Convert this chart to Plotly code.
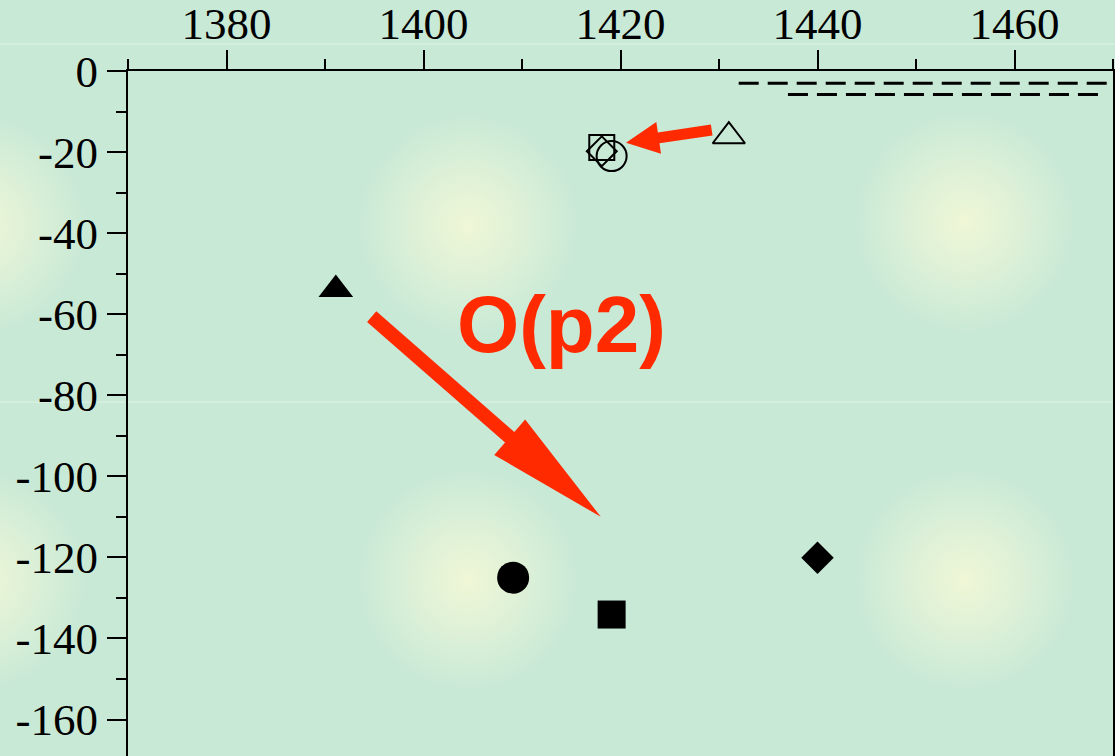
import base64
import math
import plotly.graph_objects as go

# ---------------------------------------------------------------- data
symbols = ["triangle-up", "square", "diamond", "circle"]

# open symbols (upper group)
open_x = [1431.0, 1418.1, 1418.1, 1419.1]
open_y = [-16.1, -18.9, -19.8, -21.0]

# filled symbols (lower group)
filled_x = [1391.1, 1419.1, 1440.0, 1409.1]
filled_y = [-53.9, -134.1, -120.1, -125.0]

# dashed reference segments in the upper right corner
dash_x = [[1432.0, 1470.0], [1437.0, 1469.1]]
dash_y = [[-3.0, -3.0], [-5.8, -5.8]]

x_range = [1370, 1470]
y_range = [-169.0, 0]
x_ticks = [1380, 1400, 1420, 1440, 1460]
y_ticks = [0, -20, -40, -60, -80, -100, -120, -140, -160]

label_text = "O(p2)"
RED = "#ff2a00"

# ---------------------------------------------------------------- geometry
W, H = 1115, 756
ML, MR, MT, MB = 128, 2, 71, 0
PW, PH = W - ML - MR, H - MT - MB


def to_px(x, y):
    px = ML + (x - x_range[0]) * PW / (x_range[1] - x_range[0])
    py = MT + (y_range[1] - y) * PH / (y_range[1] - y_range[0])
    return px, py


def to_data(px, py):
    x = x_range[0] + (px - ML) * (x_range[1] - x_range[0]) / PW
    y = y_range[1] - (py - MT) * (y_range[1] - y_range[0]) / PH
    return x, y


def arrow_path(tail, tip, shaft_w, head_w, head_l):
    """Filled block arrow, sizes given in pixels, ends in data units."""
    tx, ty = to_px(*tail)
    hx, hy = to_px(*tip)
    L = math.hypot(hx - tx, hy - ty)
    ux, uy = (hx - tx) / L, (hy - ty) / L
    nx, ny = -uy, ux
    bx, by = hx - ux * head_l, hy - uy * head_l
    pts = [
        (tx + nx * shaft_w / 2, ty + ny * shaft_w / 2),
        (bx + nx * shaft_w / 2, by + ny * shaft_w / 2),
        (bx + nx * head_w / 2, by + ny * head_w / 2),
        (hx, hy),
        (bx - nx * head_w / 2, by - ny * head_w / 2),
        (bx - nx * shaft_w / 2, by - ny * shaft_w / 2),
        (tx - nx * shaft_w / 2, ty - ny * shaft_w / 2),
    ]
    dpts = [to_data(*p) for p in pts]
    return "M " + " L ".join(f"{x:.4f},{y:.4f}" for x, y in dpts) + " Z"


# ---------------------------------------------------------------- background
spots = [(-25, 225), (468, 225), (965, 222), (-25, 580), (468, 580), (965, 580)]
circles = "".join(
    f'<circle cx="{cx}" cy="{cy}" r="112" fill="url(#g)"/>' for cx, cy in spots
)
svg = (
    f'<svg xmlns="http://www.w3.org/2000/svg" width="{W}" height="{H}" '
    f'viewBox="0 0 {W} {H}">'
    '<defs><radialGradient id="g">'
    '<stop offset="0" stop-color="#eff7d6"/>'
    '<stop offset="0.45" stop-color="#dff1d7"/>'
    '<stop offset="1" stop-color="#c8e9d6"/>'
    '</radialGradient></defs>'
    f'<rect width="{W}" height="{H}" fill="#c8e9d6"/>'
    f"{circles}"
    f'<rect y="43.5" width="{W}" height="1.2" fill="#dcf1e5"/>'
    f'<rect y="401.5" width="{W}" height="1.2" fill="#dcf1e5"/>'
    "</svg>"
)
bg_uri = "data:image/svg+xml;base64," + base64.b64encode(svg.encode()).decode()

# ---------------------------------------------------------------- figure
fig = go.Figure()

for xs, ys in zip(dash_x, dash_y):
    fig.add_trace(go.Scatter(
        x=xs, y=ys, mode="lines",
        line=dict(color="black", width=3, dash="20px,9px"),
        showlegend=False, hoverinfo="skip",
    ))

open_sizes = {"triangle-up": 28, "square": 25, "diamond": 23, "circle": 30}
filled_sizes = {"triangle-up": 30, "square": 28, "diamond": 25, "circle": 32}

fig.add_trace(go.Scatter(
    x=open_x, y=open_y, mode="markers",
    marker=dict(
        symbol=[s + "-open" for s in symbols],
        size=[open_sizes[s] for s in symbols],
        color="black", opacity=1, line=dict(color="black", width=2),
    ),
    showlegend=False,
))

fig.add_trace(go.Scatter(
    x=filled_x, y=filled_y, mode="markers",
    marker=dict(
        symbol=symbols,
        size=[filled_sizes[s] for s in symbols],
        color="black", opacity=1, line=dict(width=0),
    ),
    showlegend=False,
))

# red arrows
fig.add_shape(type="path", xref="x", yref="y", layer="above",
              path=arrow_path((1394.74, -60.6), (1418.0, -110.0), 14, 47, 121),
              fillcolor=RED, line=dict(width=0))
fig.add_shape(type="path", xref="x", yref="y", layer="above",
              path=arrow_path((1429.26, -14.56), (1420.56, -17.7), 11, 32, 33),
              fillcolor=RED, line=dict(width=0))

fig.add_annotation(
    x=1414.0, y=-62.5, xref="x", yref="y", text=label_text, showarrow=False,
    xanchor="center", yanchor="middle",
    font=dict(family="Liberation Sans", size=80, color=RED, weight="bold"),
)

fig.add_layout_image(
    source=bg_uri, xref="paper", yref="paper",
    x=-ML / PW, y=1 + MT / PH, sizex=W / PW, sizey=H / PH,
    xanchor="left", yanchor="top", sizing="stretch", layer="below",
)

axis_font = dict(family="Liberation Serif", size=45, color="black")

fig.update_layout(
    width=W, height=H,
    margin=dict(l=ML, r=MR, t=MT, b=MB, pad=0),
    paper_bgcolor="#c8e9d6",
    plot_bgcolor="rgba(0,0,0,0)",
    hovermode=False,
    xaxis=dict(
        side="top", range=x_range, tickvals=x_ticks, automargin=False,
        ticks="outside", ticklen=19, tickwidth=2, tickcolor="black",
        ticklabelstandoff=-7,
        showline=True, linecolor="black", linewidth=2, mirror=False,
        showgrid=False, zeroline=False, tickfont=axis_font,
        minor=dict(dtick=10, tick0=1370, ticks="outside", ticklen=10,
                   tickwidth=2, tickcolor="black", showgrid=False),
    ),
    yaxis=dict(
        range=y_range, tickvals=y_ticks, automargin=False,
        ticktext=[str(v) for v in y_ticks],
        ticks="outside", ticklen=19, tickwidth=2, tickcolor="black",
        showline=True, linecolor="black", linewidth=2, mirror=True,
        showgrid=False, zeroline=False, tickfont=axis_font,
        minor=dict(dtick=10, tick0=0, ticks="outside", ticklen=10,
                   tickwidth=2, tickcolor="black", showgrid=False),
    ),
)

fig.write_html("out.html")
